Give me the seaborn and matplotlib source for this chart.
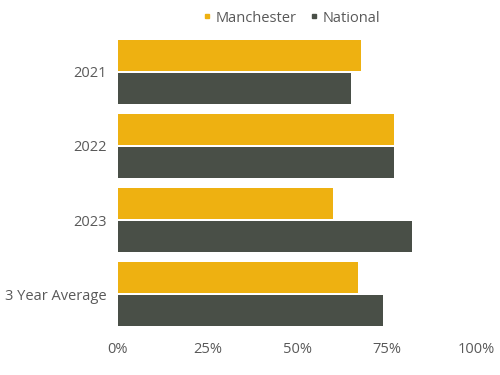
import pandas as pd
import matplotlib
matplotlib.use('Agg')
import matplotlib.pyplot as plt
from matplotlib.lines import Line2D
from matplotlib.ticker import PercentFormatter
import seaborn as sns

categories = ['2021', '2022', '2023', '3 Year Average']
manchester = [68, 77, 60, 67]
national = [65, 77, 82, 74]
series = ['Manchester', 'National']
colors = {'Manchester': '#EEB111', 'National': '#494F47'}

df = pd.DataFrame({
    'year': categories * 2,
    'value': [v / 100 for v in manchester + national],
    'series': ['Manchester'] * 4 + ['National'] * 4,
})

sns.set_style('white')
plt.rcParams['font.family'] = ['Open Sans', 'DejaVu Sans']

fig = plt.figure(figsize=(5, 3.75), dpi=100)
ax = fig.add_axes([0.236, 0.117, 0.716, 0.79])

sns.barplot(data=df, y='year', x='value', hue='series', order=categories,
            hue_order=series, palette=colors, orient='h', width=0.88,
            gap=0.05, ax=ax, legend=False, saturation=1, linewidth=0)

ax.set_xlim(0, 1)
ax.set_ylim(3.5, -0.5)
ax.set_xticks([0, 0.25, 0.5, 0.75, 1.0])
ax.xaxis.set_major_formatter(PercentFormatter(1.0, decimals=0))
ax.set_xlabel('')
ax.set_ylabel('')
ax.tick_params(axis='both', length=0, labelsize=10.5, colors='#595959', pad=8)
sns.despine(ax=ax, left=True, bottom=True)

handles = [Line2D([], [], marker='s', linestyle='', markersize=3.5,
                  color=colors[s]) for s in series]
fig.legend(handles, series, loc='center', bbox_to_anchor=(0.583, 0.952), ncol=2,
           frameon=False, fontsize=10.5, handlelength=0.6, handletextpad=0.3,
           columnspacing=0.9, labelcolor='#595959')

fig.savefig('out.png', dpi=100)
